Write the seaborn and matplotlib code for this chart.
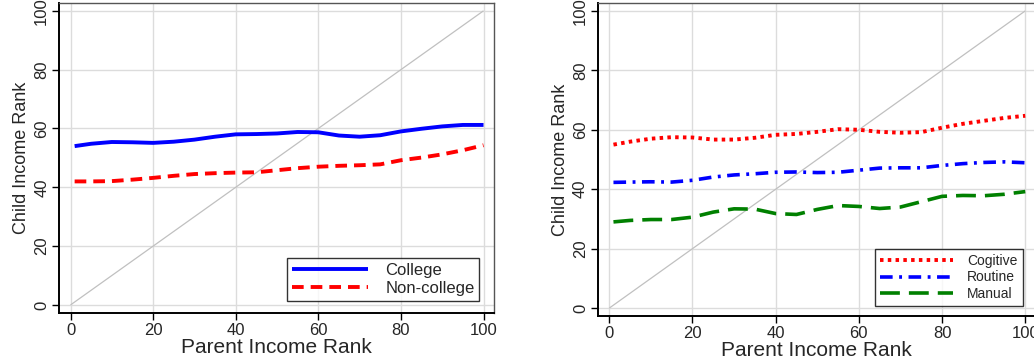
import matplotlib
matplotlib.use("Agg")
import matplotlib.pyplot as plt
import seaborn as sns
import pandas as pd

# ---- data ----
x_pts = [1, 5, 10, 15, 20, 25, 30, 35, 40, 45, 50, 55, 60, 65, 70, 75, 80, 85, 90, 95, 100]
college = [54.0, 54.8, 55.4, 55.3, 55.1, 55.5, 56.2, 57.2, 58.0, 58.1, 58.3, 58.8, 58.7, 57.6, 57.2, 57.7, 59.0, 59.9, 60.7, 61.2, 61.2]
noncollege = [42.0, 42.0, 42.1, 42.6, 43.2, 43.9, 44.5, 44.8, 45.0, 45.1, 45.8, 46.5, 47.0, 47.3, 47.5, 47.8, 49.2, 50.1, 51.2, 52.6, 54.3]
cogitive = [55.0, 56.0, 57.0, 57.5, 57.4, 56.7, 56.7, 57.3, 58.3, 58.6, 59.3, 60.2, 60.0, 59.3, 59.0, 59.2, 60.7, 62.0, 63.0, 64.0, 64.7]
routine = [42.3, 42.4, 42.5, 42.4, 43.0, 44.1, 44.8, 45.2, 45.7, 45.8, 45.6, 45.7, 46.4, 47.1, 47.2, 47.2, 48.0, 48.6, 49.0, 49.2, 48.9]
manual = [29.0, 29.5, 29.8, 29.8, 30.6, 32.3, 33.4, 33.3, 31.8, 31.5, 33.2, 34.5, 34.2, 33.5, 34.0, 35.8, 37.6, 37.9, 37.8, 38.3, 39.2]
diag = [0, 100]
ticks = [0, 20, 40, 60, 80, 100]

sns.set_theme(style="white")
plt.rcParams['font.family'] = ['Liberation Sans', 'DejaVu Sans']
plt.rcParams['lines.solid_capstyle'] = 'butt'

fig = plt.figure(figsize=(10.34, 3.58), dpi=100)
ax1 = fig.add_axes([0.057, 0.126, 0.421, 0.866])
ax2 = fig.add_axes([0.578, 0.117, 0.424, 0.875])


def style(ax):
    ax.set_xlim(-2.8, 102.6)
    ax.set_ylim(-2.7, 102.7)
    ax.set_xticks(ticks)
    ax.set_yticks(ticks)
    ax.grid(True, color="#dcdcdc", linewidth=1.0)
    ax.set_axisbelow(True)
    for s in ["left", "bottom"]:
        ax.spines[s].set_color("black")
        ax.spines[s].set_linewidth(1.4)
    for s in ["top", "right"]:
        ax.spines[s].set_color("#555555")
        ax.spines[s].set_linewidth(1.0)
    ax.tick_params(axis="both", which="major", direction="out", length=5, width=1,
                   color="black", labelsize=12, bottom=True, left=True, pad=2)
    for lab in ax.get_yticklabels():
        lab.set_rotation(90)
        lab.set_va("center")
    ax.set_xlabel("Parent Income Rank", fontsize=15, labelpad=0)
    ax.set_ylabel("Child Income Rank", fontsize=13, labelpad=3)
    sns.lineplot(x=diag, y=diag, ax=ax, color="#c0c0c0", linewidth=0.9)


# left panel
style(ax1)
sns.lineplot(x=x_pts, y=college, ax=ax1, color="#0000ff", linewidth=2.8, label="College")
sns.lineplot(x=x_pts, y=noncollege, ax=ax1, color="#ff0000", linewidth=2.8, label="Non-college")
ax1.lines[-1].set_dashes([3, 1.8])
leg1 = ax1.legend(loc="lower right", fontsize=12, frameon=True, fancybox=False,
                  edgecolor="black", handlelength=4.6, borderpad=0.3, labelspacing=0.2,
                  handletextpad=1.0, bbox_to_anchor=(0.985, 0.012))
leg1.get_frame().set_linewidth(1.0)
leg1.get_lines()[1].set_dashes([3, 1.8])

# right panel
style(ax2)
sns.lineplot(x=x_pts, y=cogitive, ax=ax2, color="#ff0000", linewidth=2.8, label="Cogitive")
ax2.lines[-1].set_dashes([0.9, 1.1])
sns.lineplot(x=x_pts, y=routine, ax=ax2, color="#0000ff", linewidth=2.6, label="Routine")
ax2.lines[-1].set_dashes([3.5, 1.8, 0.8, 1.8])
sns.lineplot(x=x_pts, y=manual, ax=ax2, color="#008000", linewidth=2.6, label="Manual")
ax2.lines[-1].set_dashes([5.5, 2.5])
leg2 = ax2.legend(loc="lower right", fontsize=10, frameon=True, fancybox=False,
                  edgecolor="black", handlelength=5.3, borderpad=0.35, labelspacing=0.2,
                  handletextpad=1.0, bbox_to_anchor=(0.985, 0.01))
leg2.get_frame().set_linewidth(1.0)
ll = leg2.get_lines()
ll[0].set_dashes([0.9, 1.1])
ll[1].set_dashes([3.5, 1.8, 0.8, 1.8])
ll[2].set_dashes([5.5, 2.5])

fig.savefig("out.png", dpi=100)
